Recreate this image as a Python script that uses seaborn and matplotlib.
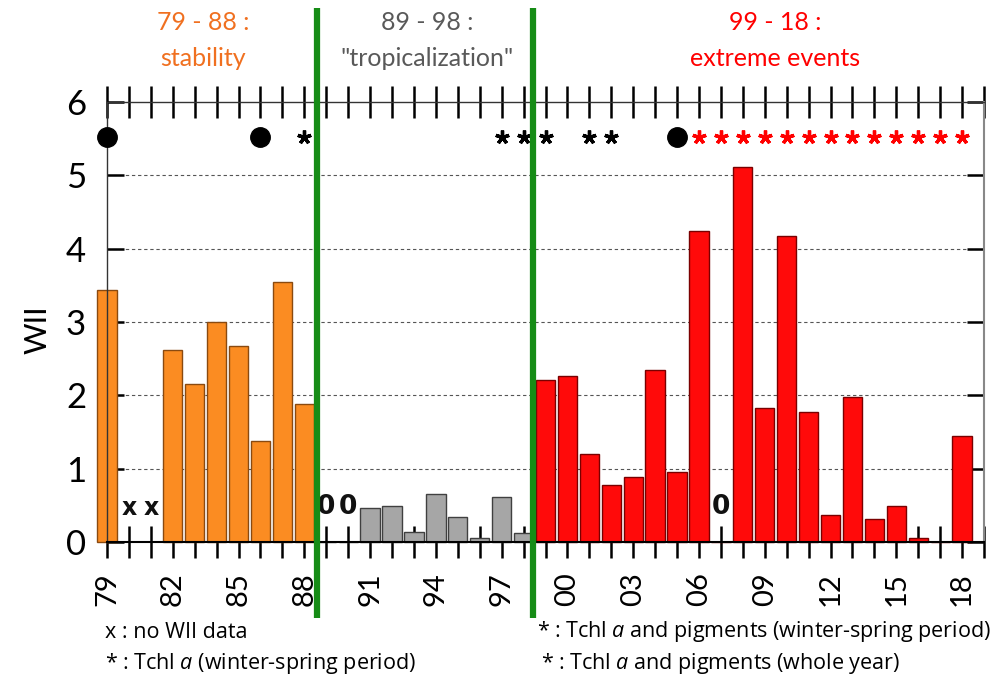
import numpy as np
import pandas as pd
import seaborn as sns
import matplotlib
matplotlib.use("Agg")
import matplotlib.pyplot as plt
from matplotlib.transforms import blended_transform_factory

# ---------------- data ----------------
years = list(range(1979, 2019))
wii = [3.43, np.nan, np.nan, 2.62, 2.15, 3.00, 2.67, 1.38, 3.55, 1.88,
       0.0, 0.0, 0.46, 0.49, 0.13, 0.66, 0.34, 0.05, 0.61, 0.12,
       2.21, 2.26, 1.20, 0.78, 0.89, 2.35, 0.96, 4.24, 0.0, 5.11,
       1.83, 4.17, 1.77, 0.37, 1.98, 0.31, 0.49, 0.05, 0.0, 1.45]
periods = ["stability"] * 10 + ["tropicalization"] * 10 + ["extreme"] * 20
no_data_years = [1980, 1981]
zero_years = [1989, 1990, 2007]
circle_years = [1979, 1986, 2005]
black_star_years = [1988, 1997, 1998, 1999, 2001, 2002]
red_star_years = list(range(2006, 2019))
period_titles = [("79 - 88 :", "stability"), ("89 - 98 :", '"tropicalization"'),
                 ("99 - 18 :", "extreme events")]
legend_left = ["x : no WII data", r"* : Tchl $a$ (winter-spring period)"]
legend_right = [r"* : Tchl $a$ and pigments (winter-spring period)",
                r"* : Tchl $a$ and pigments (whole year)"]

# ---------------- style ----------------
sns.set_theme(style="white")
plt.rcParams["font.family"] = ["Lato", "DejaVu Sans"]
plt.rcParams["mathtext.fontset"] = "custom"
plt.rcParams["mathtext.rm"] = "Open Sans"
plt.rcParams["mathtext.it"] = "Open Sans:italic"
for k in ["text.color", "xtick.color", "ytick.color", "axes.labelcolor",
          "xtick.labelcolor", "ytick.labelcolor"]:
    plt.rcParams[k] = "black"

colors = {"stability": "#FB8C22", "tropicalization": "#A6A6A6", "extreme": "#FF0A0A"}
edges = {"stability": "#8A4A10", "tropicalization": "#404040", "extreme": "#7A0000"}
title_colors = ["#F07020", "#595959", "#FF0000"]

df = pd.DataFrame({"year": [str(y) for y in years], "wii": wii, "period": periods})

fig = plt.figure(figsize=(9.96, 6.8), dpi=100)
ax = fig.add_axes([107 / 996, 138 / 680, (984 - 107) / 996, 440 / 680])

sns.barplot(data=df, x="year", y="wii", hue="period", palette=colors, dodge=False,
            width=0.88, order=[str(y) for y in years], legend=False, ax=ax,
            linewidth=1, saturation=1)
for p in ax.patches:
    fc = matplotlib.colors.to_hex(p.get_facecolor())
    for k, v in colors.items():
        if fc.lower() == v.lower():
            p.set_edgecolor(edges[k])
    p.set_clip_on(False)

ax.set_xlim(0, 40)
ax.set_ylim(0, 6)
ax.set_xlabel("")
ax.set_ylabel("")

# grid lines
for yv in range(1, 6):
    ax.plot([0, 40], [yv, yv], ls=(0, (3, 2.5)), color="#555555", lw=0.8, zorder=0.5)

# ticks
xt = list(range(41))
xl = [f"{(1979 + i) % 100:02d}" if (i % 3 == 0 and i < 40) else "" for i in xt]
ax.set_xticks(xt)
ax.set_xticklabels(xl)
ax.tick_params(axis="x", which="both", direction="inout", length=23, width=1.8,
               color="black", labelcolor="black", top=True, bottom=True,
               labelsize=21, pad=10, labelrotation=90)
ax.set_yticks(range(7))
ax.set_yticklabels([str(i) for i in range(7)])
ax.tick_params(axis="y", direction="in", length=12, width=1.8, color="black",
               labelcolor="black", left=True, right=True, labelsize=25, pad=15)

for s in ["left", "top"]:
    ax.spines[s].set_color("#333333")
    ax.spines[s].set_linewidth(1.0)
ax.spines["bottom"].set_color("black")
ax.spines["bottom"].set_linewidth(1.5)
ax.spines["right"].set_color("#888888")
ax.spines["right"].set_linewidth(1.5)

idx = {y: i for i, y in enumerate(years)}

# no-data and zero labels
for y in no_data_years:
    ax.text(idx[y], 0.46, "x", ha="center", va="center", fontsize=17,
            fontweight="bold", family="DejaVu Sans", color="#111111")
for y in zero_years:
    ax.text(idx[y], 0.48, "0", ha="center", va="center", fontsize=19,
            fontweight="bold", family="DejaVu Sans", color="#111111")

# marker row
row_y = 5.52
ax.plot([idx[y] for y in circle_years], [row_y] * len(circle_years), "o",
        color="black", ms=14, clip_on=False, zorder=5)
ax.plot([idx[y] for y in black_star_years], [row_y] * len(black_star_years),
        ls="none", marker=(5, 2, 0), color="black", ms=10, mew=2.4, zorder=5)
ax.plot([idx[y] for y in red_star_years], [row_y] * len(red_star_years),
        ls="none", marker=(5, 2, 0), color="#FF0000", ms=10, mew=2.4, zorder=5)

# green period separators
tr = blended_transform_factory(ax.transData, fig.transFigure)
for xv in [9.6, 19.45]:
    ax.plot([xv, xv], [1 - 8 / 680, 1 - 618 / 680], color="#168C16", lw=4.5,
            transform=tr, clip_on=False, zorder=6, solid_capstyle="butt")

# period titles
title_x = [203, 427, 775]
for (t1, t2), xx, c in zip(period_titles, title_x, title_colors):
    fig.text(xx / 996, 1 - 22 / 680, t1, ha="center", va="center", fontsize=18, color=c)
    fig.text(xx / 996, 1 - 58 / 680, t2, ha="center", va="center", fontsize=18, color=c)

# y label
fig.text(38 / 996, 1 - 330 / 680, "WII", rotation=90, ha="center", va="center",
         fontsize=22, color="black")

# legend texts
for txt, yy in zip(legend_left, [632, 663]):
    fig.text(105 / 996, 1 - yy / 680, txt, ha="left", va="center", fontsize=15.5,
             family="Open Sans", color="black")
for txt, xx, yy in zip(legend_right, [537, 541], [632, 663]):
    fig.text(xx / 996, 1 - yy / 680, txt, ha="left", va="center", fontsize=15.5,
             family="Open Sans", color="black")

fig.savefig("out.png", dpi=100)
